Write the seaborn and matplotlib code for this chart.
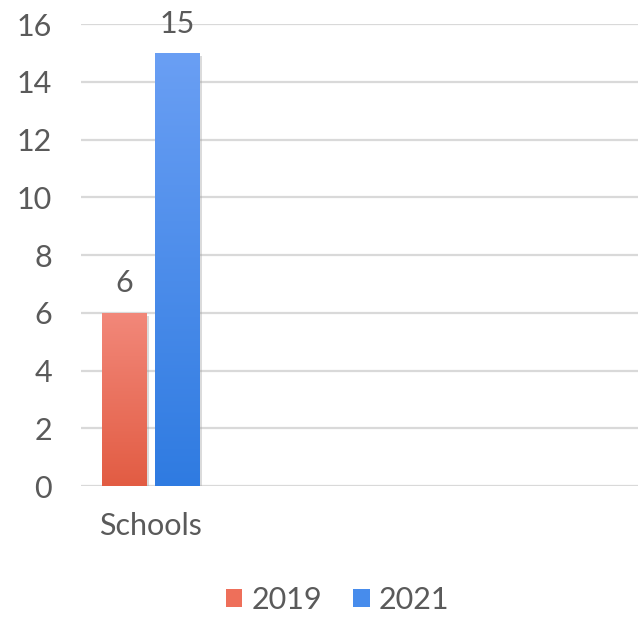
import numpy as np
import pandas as pd
import seaborn as sns
import matplotlib.pyplot as plt
import matplotlib.patheffects as pe
from matplotlib.colors import LinearSegmentedColormap
from matplotlib.patches import Patch

categories = ["Schools"]
years = ["2019", "2021"]
values_2019 = [6]
values_2021 = [15]
yticks = [0, 2, 4, 6, 8, 10, 12, 14, 16]

# gradient colours (top, bottom) per series
grad = {"2019": ("#F2887A", "#E25C43"), "2021": ("#6A9FF4", "#2F7BE1")}
mid = {"2019": "#EE6F5A", "2021": "#478CEC"}

df = pd.DataFrame({
    "category": categories * 2,
    "year": ["2019"] * len(values_2019) + ["2021"] * len(values_2021),
    "value": values_2019 + values_2021,
})

sns.set_style("white")
plt.rcParams["font.family"] = ["Lato", "DejaVu Sans"]
text_color = "#5A5A5A"
fs = 22

fig = plt.figure(figsize=(6.38, 6.17), dpi=100)
ax = fig.add_axes([0.127, 0.2123, 0.873, 0.7488])

sns.barplot(data=df, x="category", y="value", hue="year", hue_order=years,
            palette=mid, width=0.76, gap=0.16, ax=ax, legend=False)

ax.set_xlim(-0.5, 3.5)
ax.set_ylim(0, 16)
ax.set_yticks(yticks)
ax.set_xlabel("")
ax.set_ylabel("")
for s in ax.spines.values():
    s.set_visible(False)
ax.yaxis.grid(True, color="#D9D9D9", lw=1.6)
ax.set_axisbelow(True)
ax.tick_params(axis="y", length=0, pad=21, labelsize=fs, labelcolor=text_color)
ax.tick_params(axis="x", length=0, pad=19, labelsize=fs, labelcolor=text_color)

# gradient fill + soft shadow on each bar
for container, yr in zip(ax.containers, years):
    cmap = LinearSegmentedColormap.from_list(yr, [grad[yr][1], grad[yr][0]])
    for bar in container:
        x0, y0 = bar.get_x(), bar.get_y()
        w, h = bar.get_width(), bar.get_height()
        bar.set_facecolor("none")
        bar.set_edgecolor("none")
        bar.set_path_effects([pe.SimplePatchShadow(offset=(2, -2), shadow_rgbFace="#9A9A9A",
                                                   alpha=0.35)])
        img = ax.imshow(np.linspace(0, 1, 256).reshape(-1, 1), cmap=cmap, origin="lower",
                        extent=[x0, x0 + w, y0, y0 + h], aspect="auto", zorder=bar.get_zorder() + 0.1)
        img.set_clip_path(bar)
    ax.bar_label(container, padding=11, fontsize=fs, color=text_color, clip_on=False)

ax.set_xlim(-0.5, 3.5)
ax.set_ylim(0, 16)

handles = [Patch(facecolor=mid[y], edgecolor="none") for y in years]
fig.legend(handles, years, loc="center", bbox_to_anchor=(0.529, 0.028), ncol=2, frameon=False,
           fontsize=fs, labelcolor=text_color, handlelength=0.55, handleheight=0.55,
           handletextpad=0.3, columnspacing=1.0)

fig.savefig("out.png", dpi=100)
